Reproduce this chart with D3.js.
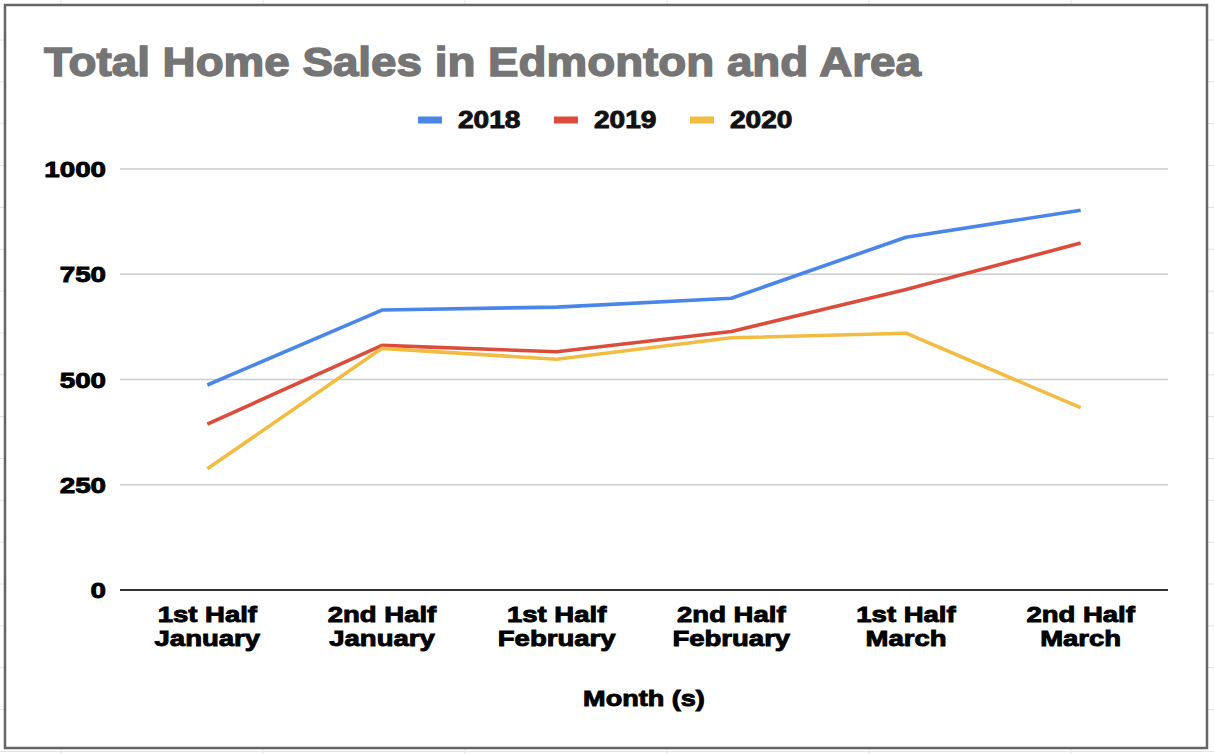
<!DOCTYPE html>
<html>
<head>
<meta charset="utf-8">
<script src="https://cdn.jsdelivr.net/npm/d3@7"></script>
<style>
  html, body { margin: 0; padding: 0; background: #fff; }
  svg { display: block; font-family: "Liberation Sans", Arial, sans-serif; }
</style>
</head>
<body>
<svg id="chart" width="1214" height="754"></svg>
<script>
// ---- data ----
const categories = [
  ["1st Half", "January"],
  ["2nd Half", "January"],
  ["1st Half", "February"],
  ["2nd Half", "February"],
  ["1st Half", "March"],
  ["2nd Half", "March"]
];
const seriesNames = ["2018", "2019", "2020"];
const sales2018 = [487, 665, 672, 693, 838, 902];
const sales2019 = [394, 581, 566, 614, 714, 824];
const sales2020 = [288, 574, 548, 599, 610, 433];
const yTicks = [0, 250, 500, 750, 1000];
const titleText = "Total Home Sales in Edmonton and Area";
const xAxisTitle = "Month (s)";

const colors = ["#4a86e8", "#db4c3c", "#f2bc42"];
const seriesValues = [sales2018, sales2019, sales2020];

const svg = d3.select("#chart");
const W = 1214, H = 754;

// spreadsheet grid behind the chart
const bg = svg.append("g");
bg.append("rect").attr("width", W).attr("height", H).attr("fill", "#fff");
const rowLines = d3.range(0, 19).map(i => 40 + i * 41.85);
const colLines = d3.range(0, 7).map(i => 61 + i * 202);
bg.selectAll("line.r").data(rowLines).join("line")
  .attr("x1", 0).attr("x2", W).attr("y1", d => d).attr("y2", d => d)
  .attr("stroke", "#e2e2e2").attr("stroke-width", 1);
bg.selectAll("line.c").data(colLines).join("line")
  .attr("y1", 0).attr("y2", H).attr("x1", d => d).attr("x2", d => d)
  .attr("stroke", "#e2e2e2").attr("stroke-width", 1);

// chart frame
svg.append("rect")
  .attr("x", 5).attr("y", 5).attr("width", 1202).attr("height", 743)
  .attr("fill", "#fff").attr("stroke", "#646464").attr("stroke-width", 2.5);

const x = d3.scalePoint().domain(d3.range(categories.length)).range([120, 1168]).padding(0.5);
const y = d3.scaleLinear().domain([0, 1000]).range([590, 169]);

function stretch(sel, k) {
  sel.each(function () {
    const w = this.getComputedTextLength();
    d3.select(this).attr("textLength", w * k).attr("lengthAdjust", "spacingAndGlyphs");
  });
}

// gridlines
svg.append("g").selectAll("line").data(yTicks.filter(t => t !== 0)).join("line")
  .attr("x1", 120).attr("x2", 1168)
  .attr("y1", d => y(d)).attr("y2", d => y(d))
  .attr("stroke", "#cccccc").attr("stroke-width", 1.5);

// y axis via d3.axisLeft (labels only)
const yAxis = svg.append("g").attr("transform", "translate(106,0)")
  .call(d3.axisLeft(y).tickValues(yTicks).tickSize(0).tickPadding(0).tickFormat(d3.format("d")));
yAxis.select(".domain").remove();
yAxis.selectAll("text")
  .attr("font-family", "Liberation Sans, Arial, sans-serif")
  .attr("font-size", 22).attr("font-weight", "bold").attr("fill", "#000")
  .attr("stroke", "#000").attr("stroke-width", 0.9)
  .attr("dy", null).attr("y", 0).attr("dominant-baseline", "central");
stretch(yAxis.selectAll("text"), 1.26);

// zero baseline
svg.append("line")
  .attr("x1", 120).attr("x2", 1168).attr("y1", y(0)).attr("y2", y(0))
  .attr("stroke", "#333").attr("stroke-width", 2);

// x labels
const xl = svg.append("g");
categories.forEach((c, i) => {
  c.forEach((line, j) => {
    xl.append("text")
      .attr("x", x(i)).attr("y", 622 + j * 24)
      .attr("text-anchor", "middle")
      .attr("font-size", 22).attr("font-weight", "bold").attr("fill", "#000")
      .attr("stroke", "#000").attr("stroke-width", 0.9)
      .text(line);
  });
});
stretch(xl.selectAll("text"), 1.25);

// lines
const lineGen = d3.line().x((d, i) => x(i)).y(d => y(d));
svg.append("g").selectAll("path").data(seriesValues).join("path")
  .attr("d", d => lineGen(d))
  .attr("fill", "none")
  .attr("stroke", (d, i) => colors[i])
  .attr("stroke-width", 3.6)
  .attr("stroke-linejoin", "round");

// title
const t = svg.append("text")
  .attr("x", 44).attr("y", 76)
  .attr("font-size", 40).attr("font-weight", "bold").attr("fill", "#757575")
  .attr("stroke", "#757575").attr("stroke-width", 1.4)
  .text(titleText);
t.attr("textLength", 877).attr("lengthAdjust", "spacingAndGlyphs");

// legend
const legendX = [418, 554, 690];
const lg = svg.append("g");
seriesNames.forEach((n, i) => {
  lg.append("rect")
    .attr("x", legendX[i]).attr("y", 116.5).attr("width", 24).attr("height", 7)
    .attr("fill", colors[i]);
  lg.append("text")
    .attr("class", "lt")
    .attr("x", legendX[i] + 40).attr("y", 127.5)
    .attr("font-size", 23).attr("font-weight", "bold").attr("fill", "#111")
    .attr("stroke", "#111").attr("stroke-width", 0.9)
    .text(n);
});
stretch(lg.selectAll("text.lt"), 1.22);

// x axis title
const at = svg.append("text")
  .attr("x", 644).attr("y", 706)
  .attr("text-anchor", "middle")
  .attr("font-size", 22).attr("font-weight", "bold").attr("fill", "#000")
  .attr("stroke", "#000").attr("stroke-width", 0.9)
  .text(xAxisTitle);
stretch(at, 1.23);
</script>
</body>
</html>
